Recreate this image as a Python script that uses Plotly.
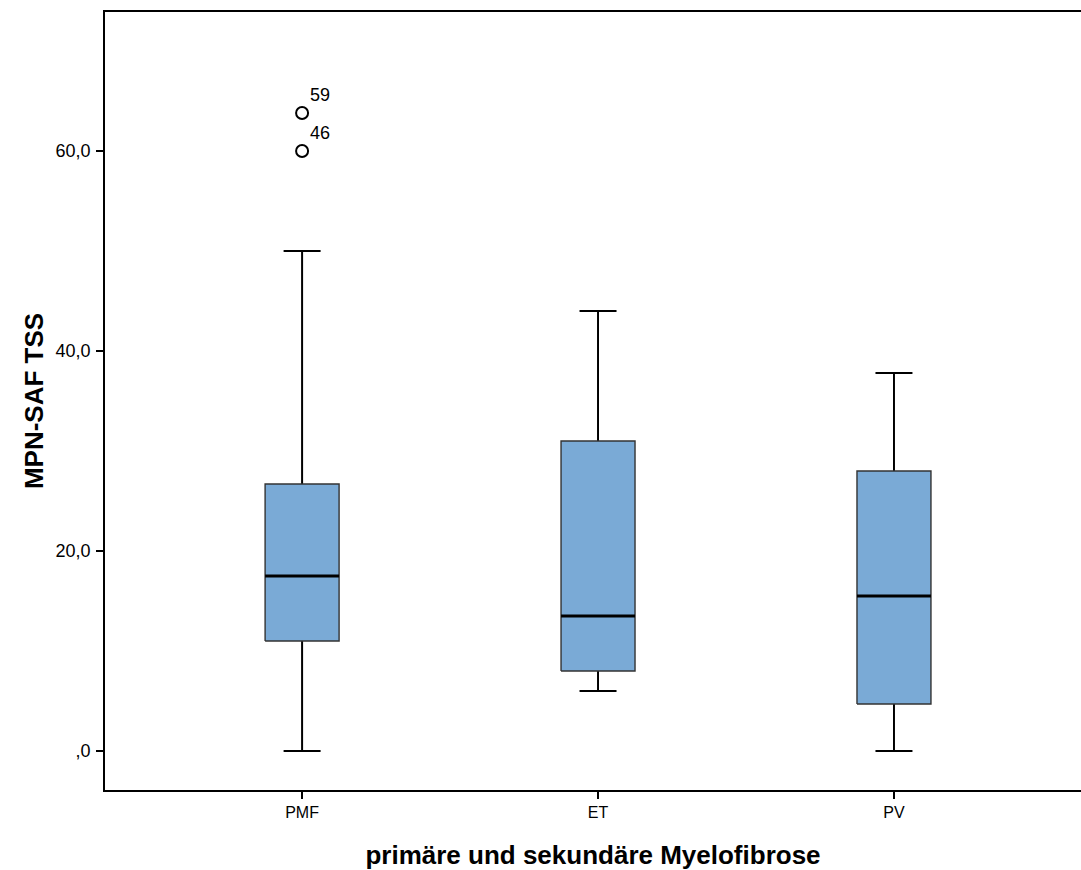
import plotly.graph_objects as go

# Five-number summaries of MPN-SAF TSS per group
groups = ["PMF", "ET", "PV"]
lower_whisker = [0.0, 6.0, 0.0]
q1 = [11.0, 8.0, 4.7]
median = [17.5, 13.5, 15.5]
q3 = [26.7, 31.0, 28.0]
upper_whisker = [50.0, 44.0, 37.8]

# Outliers (group, value, case number)
outlier_group = ["PMF", "PMF"]
outlier_value = [60.0, 63.8]
outlier_case = ["46", "59"]

y_tick_vals = [0, 20, 40, 60]
y_tick_text = [",0", "20,0", "40,0", "60,0"]

box_color = "#7AAAD6"
box_width = 0.25
cap_width = 0.125
font_family = "Liberation Sans, Arial, sans-serif"

pos = {g: i for i, g in enumerate(groups)}
xs = list(range(len(groups)))

fig = go.Figure()


def seg(x0, x1, y0, y1, width, color="black"):
    fig.add_trace(go.Scatter(
        x=[x0, x1], y=[y0, y1], mode="lines",
        line=dict(color=color, width=width),
        hoverinfo="skip", showlegend=False,
    ))


for i in xs:
    # whiskers and caps
    seg(i, i, lower_whisker[i], q1[i], 2)
    seg(i, i, q3[i], upper_whisker[i], 2)
    seg(i - cap_width / 2, i + cap_width / 2, lower_whisker[i], lower_whisker[i], 2)
    seg(i - cap_width / 2, i + cap_width / 2, upper_whisker[i], upper_whisker[i], 2)
    # interquartile box
    x0, x1 = i - box_width / 2, i + box_width / 2
    fig.add_trace(go.Scatter(
        x=[x0, x1, x1, x0, x0],
        y=[q1[i], q1[i], q3[i], q3[i], q1[i]],
        mode="lines", fill="toself", fillcolor=box_color,
        line=dict(color="#333333", width=1.4),
        hoverinfo="skip", showlegend=False,
    ))
    # median bar
    seg(x0, x1, median[i], median[i], 3.2)

# Outlier circles with case labels
fig.add_trace(go.Scatter(
    x=[pos[g] for g in outlier_group],
    y=outlier_value,
    mode="markers",
    marker=dict(symbol="circle-open", size=12, color="black", line=dict(width=2)),
    hoverinfo="skip",
    showlegend=False,
))
for g, v, c in zip(outlier_group, outlier_value, outlier_case):
    fig.add_annotation(
        x=pos[g], y=v, text=c, showarrow=False,
        xanchor="left", yanchor="bottom", xshift=6, yshift=6,
        font=dict(family=font_family, size=18, color="black"),
    )

fig.update_layout(
    width=1081,
    height=870,
    margin=dict(l=105, r=0, t=12, b=80),
    paper_bgcolor="white",
    plot_bgcolor="white",
    font=dict(family=font_family, color="black"),
)

fig.update_xaxes(
    range=[-0.666, 2.632],
    tickvals=xs,
    ticktext=groups,
    ticks="outside",
    ticklen=7,
    tickwidth=1.5,
    tickcolor="black",
    tickfont=dict(size=16),
    showline=True,
    linecolor="black",
    linewidth=1.8,
    mirror=True,
    showgrid=False,
    zeroline=False,
    title=dict(text="<b>primäre und sekundäre Myelofibrose</b>",
               font=dict(size=26), standoff=26),
)

fig.update_yaxes(
    range=[-3.9, 73.9],
    tickvals=y_tick_vals,
    ticktext=y_tick_text,
    ticks="outside",
    ticklen=7,
    tickwidth=1.5,
    tickcolor="black",
    tickfont=dict(size=18),
    ticklabelstandoff=2,
    showline=True,
    linecolor="black",
    linewidth=1.8,
    mirror=False,
    showgrid=False,
    zeroline=False,
    title=dict(text="<b>MPN-SAF TSS</b>", font=dict(size=26), standoff=4),
)

fig.write_html("out.html")
